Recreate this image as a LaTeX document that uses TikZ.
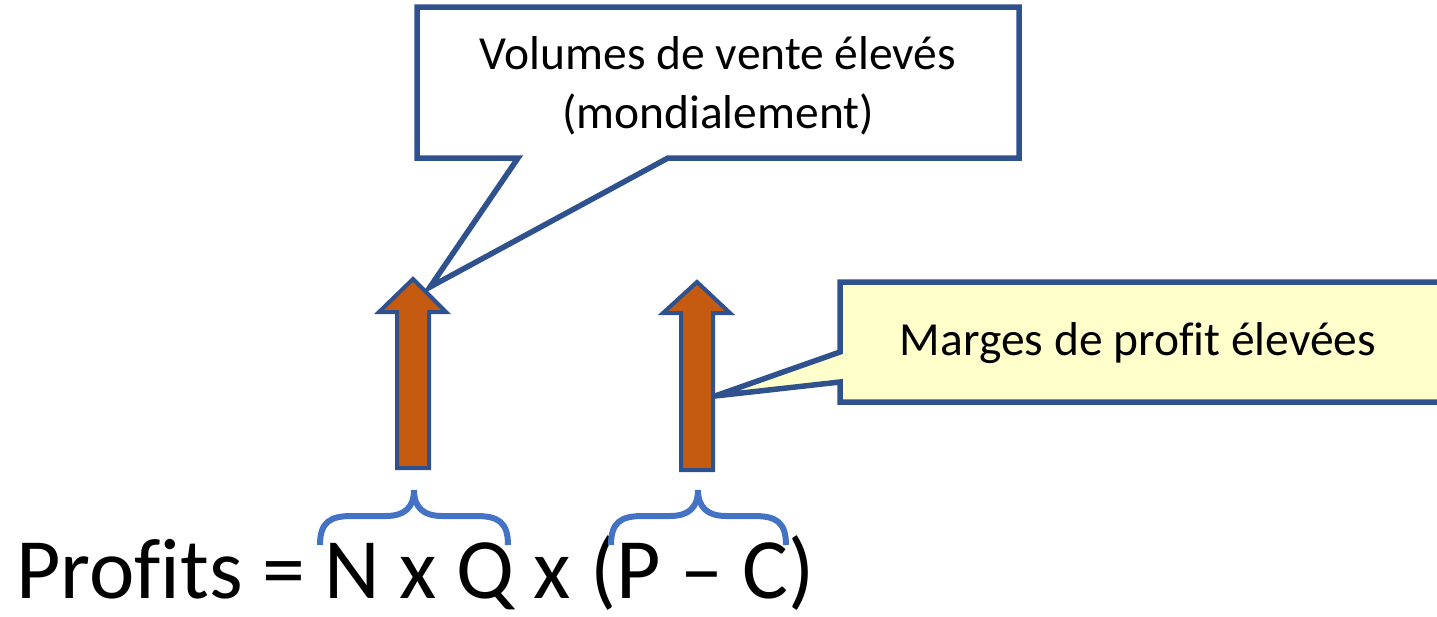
\documentclass[tikz,border=0pt]{standalone}
\usepackage{fontspec}
\setmainfont{Carlito}[Ligatures=NoCommon]
\definecolor{edgeblue}{HTML}{2F528F}
\definecolor{braceblue}{HTML}{4472C4}
\definecolor{rustorange}{HTML}{C55A11}
\definecolor{notecream}{HTML}{FFFFCC}
\tikzset{
  calloutshape/.style={draw=edgeblue, line width=5.5pt, line join=miter},
  blockarrow/.style={draw=edgeblue, fill=rustorange, line width=4pt, line join=miter},
  bracestroke/.style={draw=braceblue, line width=6pt, line cap=butt},
  notetext/.style={font=\fontsize{47.5}{59}\selectfont, align=center, inner sep=0pt},
  formulatext/.style={font=\fontsize{86}{100}\selectfont, inner sep=0pt},
}
\begin{document}
\begin{tikzpicture}[x=1pt,y=-1pt]
\useasboundingbox (0,0) rectangle (1437,616);
\clip (0,0) rectangle (1437,616);

% callout: sales volumes
\draw[calloutshape, fill=white]
  (417,7) -- (1019,7) -- (1019,158) -- (668,158) -- (430,287) -- (518,158) -- (417,158) -- cycle;
\node[notetext, anchor=base] (volumes) at (718,69) {Volumes de vente élevés};
\node[notetext, anchor=base] (mondial) at (718,128) {(mondialement)};

% callout: profit margins
\draw[calloutshape, fill=notecream]
  (840,282) -- (1460,282) -- (1460,402) -- (840,402) -- (840,382) -- (715,396) -- (840,352) -- cycle;
\node[notetext, anchor=base] (marges) at (1138,355) {Marges de profit élevées};

% upward block arrows
\draw[blockarrow]
  (397,468) -- (397,312) -- (379,312) -- (413,279) -- (446,312) -- (429,312) -- (429,468) -- cycle;
\draw[blockarrow]
  (681,470) -- (681,313) -- (663,313) -- (697,282) -- (730,313) -- (713,313) -- (713,470) -- cycle;

% formula
\node[formulatext, anchor=base west] (formula) at (16,598) {Profits = N x Q x (P – C)};

% braces over N x Q and P - C
\draw[bracestroke]
  (320,545) .. controls (320,522) and (330,516) .. (352,516) -- (386,516)
  .. controls (404,516) and (414,508) .. (414,490)
  .. controls (414,508) and (424,516) .. (442,516) -- (476,516)
  .. controls (498,516) and (508,522) .. (508,545);
\draw[bracestroke]
  (611,545) .. controls (611,522) and (621,516) .. (643,516) -- (670,516)
  .. controls (688,516) and (698,508) .. (698,490)
  .. controls (698,508) and (708,516) .. (726,516) -- (754,516)
  .. controls (776,516) and (786,522) .. (786,545);
\end{tikzpicture}
\end{document}
